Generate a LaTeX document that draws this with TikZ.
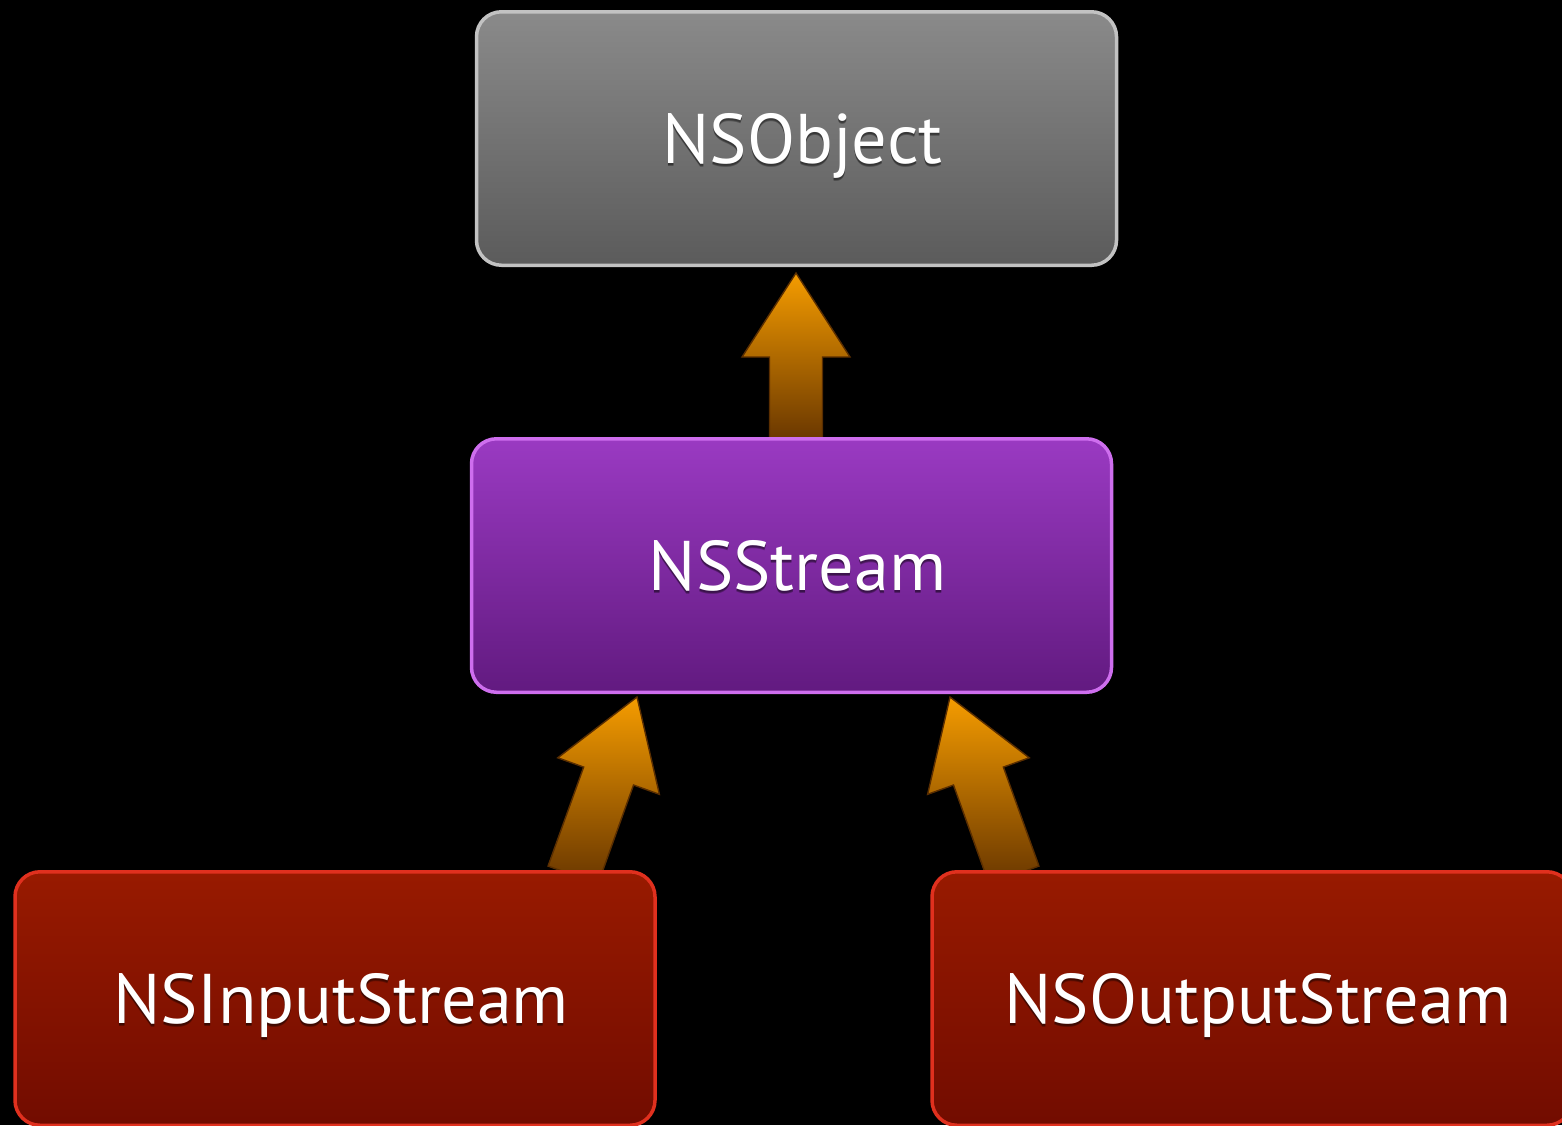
\documentclass[tikz,border=0pt]{standalone}
\usepackage{fontspec}
\setmainfont{PT Sans}
\usetikzlibrary{calc}
\pgfdeclarelayer{bg}
\pgfdeclarelayer{arr}
\pgfsetlayers{bg,arr,main}
\definecolor{objtop}{HTML}{8A8A8A}
\definecolor{objbot}{HTML}{5B5B5B}
\definecolor{objline}{HTML}{C2C2C2}
\definecolor{strtop}{HTML}{9A3AC2}
\definecolor{strbot}{HTML}{621A80}
\definecolor{strline}{HTML}{CE6EEE}
\definecolor{redtop}{HTML}{981A00}
\definecolor{redbot}{HTML}{720C00}
\definecolor{redline}{HTML}{E0301E}
\definecolor{arrtop}{HTML}{F59C00}
\definecolor{arrbot}{HTML}{683600}
\definecolor{arrline}{HTML}{5A2E00}
\tikzset{
  labelfont/.style={font=\fontsize{20}{24}\selectfont, text height=13.95pt, text depth=0pt, inner sep=0pt},
  shadowtxt/.style={labelfont, text=black},
  box/.style={rounded corners=0.25cm, line width=0.035cm, minimum width=6.4cm,
    minimum height=2.535cm, inner sep=0pt, text=white, labelfont,
    execute at begin node={\hspace*{0.12cm}},
    path picture={
      \node[shadowtxt, opacity=0.3] at ($(path picture bounding box.center)+(0,-0.02)$) {#1};
      \node[shadowtxt, opacity=0.3] at ($(path picture bounding box.center)+(0,-0.035)$) {#1};
    }},
  graybox/.style={box=#1, draw=objline, top color=objtop, bottom color=objbot},
  purplebox/.style={box=#1, draw=strline, top color=strtop, bottom color=strbot},
  redbox/.style={box=#1, draw=redline, top color=redtop, bottom color=redbot},
  blockarrow/.style={top color=arrtop, bottom color=arrbot, draw=arrline, line width=0.4pt, line join=miter}
}
\newcommand\blockarr[2]{%
  \path (#2) coordinate (ba-t) ($(#2)!0.84cm!(#1)$) coordinate (ba-h);
  \path[blockarrow] ($(#1)!0.265cm!90:(ba-t)$) -- ($(ba-h)!0.265cm!90:(ba-t)$)
    -- ($(ba-h)!0.54cm!90:(ba-t)$) -- (ba-t) -- ($(ba-h)!0.54cm!-90:(ba-t)$)
    -- ($(ba-h)!0.265cm!-90:(ba-t)$) -- ($(#1)!0.265cm!-90:(ba-t)$) -- cycle;}
\begin{document}
\begin{tikzpicture}
\useasboundingbox (0,0) rectangle (15.62,-11.25);
\begin{pgfonlayer}{bg}
  \fill[black] (0,0) rectangle (15.62,-11.25);
\end{pgfonlayer}

\node[graybox=NSObject] (obj) at (7.965,-1.385) {NSObject};
\node[purplebox=NSStream] (stream) at (7.915,-5.655) {NSStream};
\node[redbox=NSInputStream] (input) at (3.35,-9.985) {NSInputStream};
\node[redbox=NSOutputStream] (output) at (12.52,-9.985) {NSOutputStream};

\coordinate (a1s) at ($(stream.north)+(0.045,-0.05)$);
\coordinate (a1t) at ($(obj.south)+(-0.005,-0.06)$);
\coordinate (a2s) at ($(input.north)+(2.38,-0.05)$);
\coordinate (a2t) at ($(stream.south)+(-1.545,-0.03)$);
\coordinate (a3s) at ($(output.north)+(-2.38,-0.05)$);
\coordinate (a3t) at ($(stream.south)+(1.585,-0.03)$);

\begin{pgfonlayer}{arr}
  \blockarr{a1s}{a1t}
  \blockarr{a2s}{a2t}
  \blockarr{a3s}{a3t}
\end{pgfonlayer}
\end{tikzpicture}
\end{document}
